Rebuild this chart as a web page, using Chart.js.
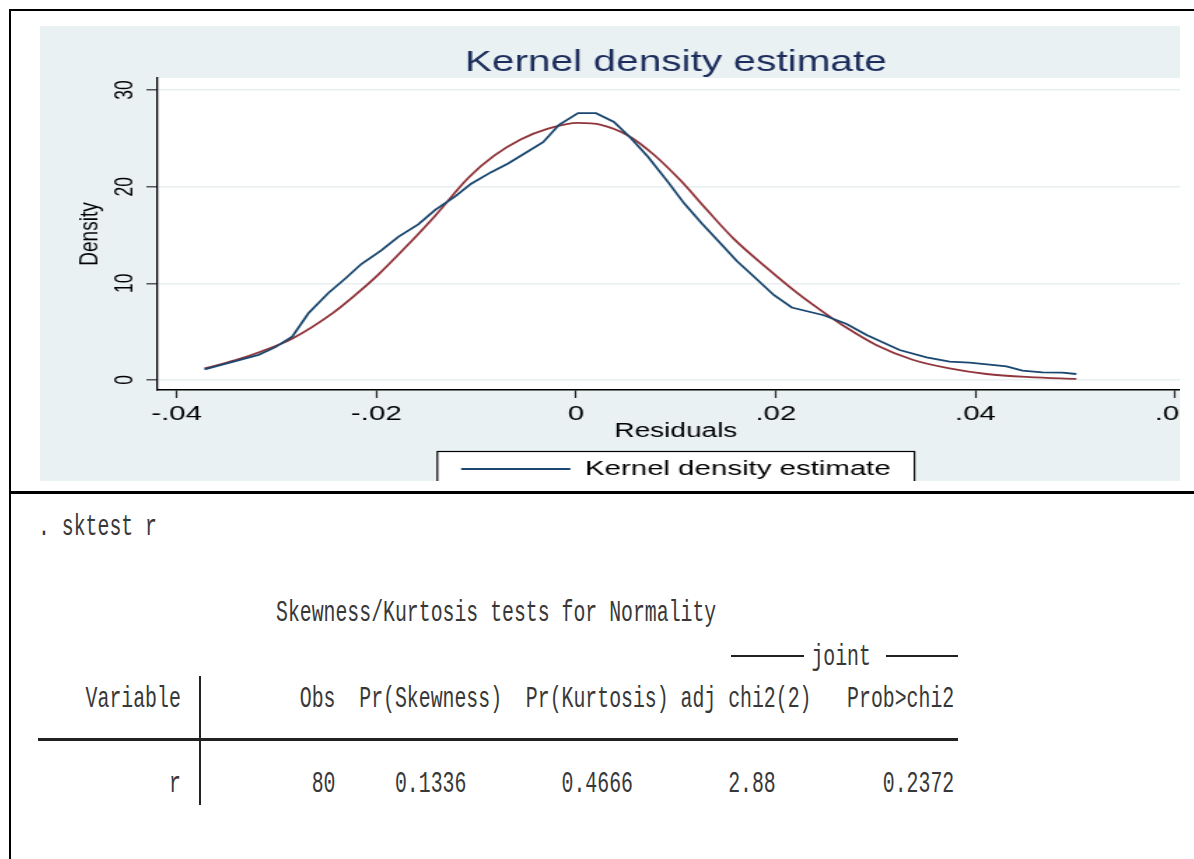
<!DOCTYPE html>
<html lang="en">
<head>
    <meta charset="UTF-8">
    <title>Kernel density estimate / sktest</title>
    <style>
        body { margin: 0; background: #fff; width: 1194px; height: 859px; position: relative; overflow: hidden; }
        .rule { position: absolute; background: #000; }
        #graph-box {
            position: absolute; left: 40px; top: 26px; width: 1140px; height: 455px;
            overflow: hidden; background: #e9f1f3;
        }
        /* Stata graph is stretched sideways in the screenshot */
        #kde { transform: scaleX(1.4); transform-origin: 0 0; }
        .out {
            position: absolute; left: 38px; height: 30px; line-height: 30px;
            font-family: "Liberation Mono", "DejaVu Sans Mono", monospace;
            font-size: 19.83px; color: #383838; white-space: pre;
            transform: scaleY(1.5); transform-origin: 50% 50%;
        }
        .ln { position: absolute; background: #222; }
    </style>
</head>
<body>
    <!-- window frame -->
    <div class="rule" style="left:9px; top:9px; width:1185px; height:2px;"></div>
    <div class="rule" style="left:9px; top:9px; width:2px; height:850px;"></div>
    <div class="rule" style="left:9px; top:491px; width:1185px; height:3px;"></div>

    <div id="graph-box">
        <canvas id="kde" width="850" height="470"></canvas>
    </div>

    <!-- results window -->
    <div class="out" style="top:512px;">. sktest r</div>
    <div class="out" style="top:598px;">                    Skewness/Kurtosis tests for Normality</div>
    <div class="out" style="top:642px;">                                                                 joint</div>
    <div class="out" style="top:684px;">    Variable          Obs  Pr(Skewness)  Pr(Kurtosis) adj chi2(2)   Prob&gt;chi2</div>
    <div class="out" style="top:769px;">           r           80     0.1336        0.4666        2.88         0.2372</div>
    <div class="ln" style="left:731px; top:655px; width:73px; height:2px;"></div>
    <div class="ln" style="left:886px; top:655px; width:72px; height:2px;"></div>
    <div class="ln" style="left:38px; top:738px; width:920px; height:3px;"></div>
    <div class="ln" style="left:199px; top:676px; width:2px; height:129px;"></div>

    <script src="https://cdn.jsdelivr.net/npm/chart.js"></script>
    <script>
        // kernel density estimate
        const kdeX = [-0.0372, -0.0318, -0.0301, -0.0284, -0.0268, -0.0248, -0.0231, -0.0215, -0.0195, -0.0178,
                      -0.0158, -0.0141, -0.0121, -0.0105, -0.0085, -0.0068, -0.0052, -0.0033, -0.0017, 0.0002,
                      0.0020, 0.0038, 0.0055, 0.0072, 0.0092, 0.0108, 0.0126, 0.0145, 0.0161, 0.0178,
                      0.0198, 0.0216, 0.0248, 0.0271, 0.0291, 0.0324, 0.0351, 0.0374, 0.0394, 0.0414,
                      0.0431, 0.0447, 0.0467, 0.0487, 0.0501];
        const kdeY = [1.1, 2.6, 3.4, 4.5, 6.9, 9.0, 10.5, 12.0, 13.4, 14.8,
                      16.1, 17.6, 19.0, 20.3, 21.5, 22.4, 23.4, 24.6, 26.4, 27.6,
                      27.6, 26.7, 25.0, 23.1, 20.5, 18.3, 16.2, 14.1, 12.3, 10.7,
                      8.8, 7.5, 6.7, 5.8, 4.65, 3.1, 2.35, 1.9, 1.8, 1.6,
                      1.4, 0.97, 0.79, 0.76, 0.62];

        // normal density overlay
        const normX = [-0.0372, -0.0341, -0.0314, -0.0284, -0.0244, -0.0221, -0.0198, -0.0171, -0.0141, -0.0108,
                       -0.0082, -0.0055, -0.0028, 0.0002, 0.0025, 0.0052, 0.0078, 0.0105, 0.0131, 0.0158,
                       0.0191, 0.0224, 0.0248, 0.0271, 0.0301, 0.0337, 0.0374, 0.0411, 0.0454, 0.0501];
        const normY = [1.2, 2.05, 3.0, 4.3, 6.9, 8.8, 10.9, 13.7, 17.0, 20.9,
                       23.2, 24.9, 26.0, 26.6, 26.4, 25.3, 23.3, 20.6, 17.6, 14.6,
                       11.6, 8.8, 7.0, 5.4, 3.6, 2.1, 1.2, 0.62, 0.3, 0.12];

        const xTickVals = [-0.04, -0.02, 0, 0.02, 0.04, 0.06];
        const xTickLabels = ['-.04', '-.02', '0', '.02', '.04', '.06'];
        const yTickVals = [0, 10, 20, 30];
        const yTickLabels = ['0', '10', '20', '30'];

        const FONT = '"Liberation Sans", Arial, sans-serif';

        // white plot region + legend frame
        const backdrop = {
            id: 'backdrop',
            beforeDraw(chart) {
                const { ctx, chartArea } = chart;
                ctx.save();
                ctx.fillStyle = '#fff';
                ctx.fillRect(chartArea.left, chartArea.top, chartArea.right - chartArea.left, chartArea.bottom - chartArea.top);
                const hb = chart.legend.legendHitBoxes[0];
                if (hb) {
                    const l = hb.left - 17, r = hb.left + hb.width + 17, t = hb.top - 7;
                    ctx.fillRect(l, t, r - l, chart.height - t + 10);
                    ctx.strokeStyle = '#000';
                    ctx.lineWidth = 1.2;
                    ctx.strokeRect(l, t, r - l, chart.height - t + 10);
                }
                ctx.restore();
            }
        };

        // Stata-style rotated y labels and y title
        const yLabels = {
            id: 'yLabels',
            afterDraw(chart) {
                const { ctx, chartArea } = chart;
                const y = chart.scales.y;
                ctx.save();
                ctx.fillStyle = '#000';
                ctx.textAlign = 'center';
                ctx.textBaseline = 'middle';
                ctx.font = '17.5px ' + FONT;
                yTickVals.forEach((v, i) => {
                    ctx.save();
                    ctx.translate(61, y.getPixelForValue(v));
                    ctx.rotate(-Math.PI / 2);
                    ctx.fillText(yTickLabels[i], 0, 0);
                    ctx.restore();
                });
                ctx.font = '19px ' + FONT;
                ctx.translate(36, (chartArea.top + chartArea.bottom) / 2);
                ctx.rotate(-Math.PI / 2);
                ctx.fillText('Density', 0, 0);
                ctx.restore();
            }
        };

        const ctx = document.getElementById('kde').getContext('2d');
        new Chart(ctx, {
            type: 'scatter',
            data: {
                datasets: [{
                    label: 'Kernel density estimate',
                    data: kdeX.map((x, i) => ({ x: x, y: kdeY[i] })),
                    showLine: true,
                    borderColor: '#1a476f',
                    backgroundColor: '#1a476f',
                    borderWidth: 1.8,
                    pointRadius: 0,
                    tension: 0
                }, {
                    label: 'Normal density',
                    data: normX.map((x, i) => ({ x: x, y: normY[i] })),
                    showLine: true,
                    borderColor: '#90353b',
                    backgroundColor: '#90353b',
                    borderWidth: 1.8,
                    pointRadius: 0,
                    cubicInterpolationMode: 'monotone'
                }]
            },
            options: {
                responsive: false,
                animation: false,
                devicePixelRatio: 1,
                layout: { padding: { left: 0, right: 25.6, top: 0, bottom: 6.5 } },
                plugins: {
                    title: {
                        display: true,
                        text: 'Kernel density estimate',
                        color: '#1c2d5b',
                        fullSize: false,
                        font: { family: FONT, size: 29, weight: 'normal', lineHeight: 1.0 },
                        padding: { top: 22, bottom: 1 }
                    },
                    legend: {
                        position: 'bottom',
                        fullSize: false,
                        labels: {
                            color: '#000',
                            boxWidth: 78,
                            boxHeight: 0,
                            padding: 10,
                            font: { family: FONT, size: 21 },
                            filter: item => item.datasetIndex === 0
                        }
                    },
                    tooltip: { enabled: false }
                },
                scales: {
                    x: {
                        type: 'linear',
                        min: -0.0419,
                        max: 0.0619,
                        afterBuildTicks: s => { s.ticks = xTickVals.map(v => ({ value: v })); },
                        afterFit: s => { s.height = 58.5; },
                        ticks: {
                            callback: (v, i) => xTickLabels[i],
                            color: '#000',
                            padding: 5.5,
                            maxRotation: 0,
                            autoSkip: false,
                            font: { family: FONT, size: 21, lineHeight: 1.0 }
                        },
                        grid: { drawOnChartArea: false, tickLength: 8, tickColor: '#222', tickWidth: 1.2 },
                        border: { color: '#000', width: 1.5 },
                        title: {
                            display: true,
                            text: 'Residuals',
                            color: '#000',
                            font: { family: FONT, size: 20, lineHeight: 1.0 },
                            padding: { top: 0, bottom: 7.5 }
                        }
                    },
                    y: {
                        min: -1.034,
                        max: 31.24,
                        afterBuildTicks: s => { s.ticks = yTickVals.map(v => ({ value: v })); },
                        afterFit: s => { s.width = 84; },
                        ticks: { display: false },
                        grid: { color: '#e7eff1', lineWidth: 1.5, tickLength: 8, tickColor: '#555', tickWidth: 1.5 },
                        border: { color: '#000', width: 1.3 }
                    }
                }
            },
            plugins: [backdrop, yLabels]
        });
    </script>
</body>
</html>
